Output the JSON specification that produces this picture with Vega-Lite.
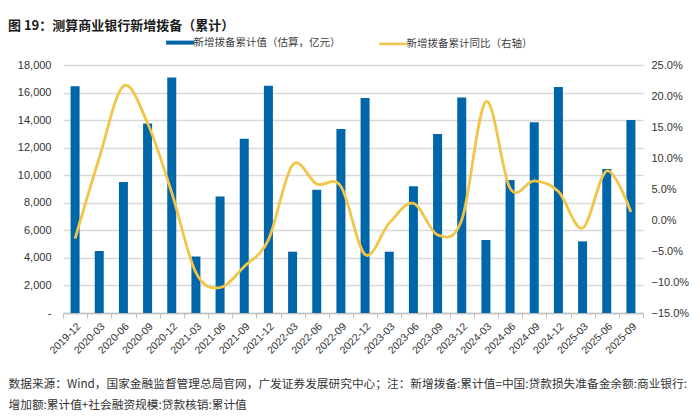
{
  "$schema": "https://vega.github.io/schema/vega-lite/v6.json",
  "width": 580,
  "height": 248,
  "autosize": {"type": "none"},
  "padding": {"left": 63, "top": 65, "right": 57, "bottom": 107},
  "background": "white",
  "title": {
    "text": "图 19：测算商业银行新增拨备（累计）",
    "anchor": "start",
    "frame": "group",
    "dx": -55,
    "font": "Noto Sans CJK SC",
    "fontSize": 13,
    "fontWeight": "bold",
    "color": "#1a1a1a"
  },
  "config": {
    "view": {"stroke": null},
    "axis": {"labelFont": "Liberation Sans", "labelColor": "#333333", "titleFont": "Noto Sans CJK SC"},
    "legend": {"labelFont": "Noto Sans CJK SC"}
  },
  "data": {
    "values": [
      {"period": "2019-12", "provision": 16450, "yoy": -3.0},
      {"period": "2020-03", "provision": 4500, "yoy": 10.0},
      {"period": "2020-06", "provision": 9500, "yoy": 21.6},
      {"period": "2020-09", "provision": 13750, "yoy": 15.6},
      {"period": "2020-12", "provision": 17100, "yoy": 4.4},
      {"period": "2021-03", "provision": 4100, "yoy": -8.5},
      {"period": "2021-06", "provision": 8450, "yoy": -10.9},
      {"period": "2021-09", "provision": 12650, "yoy": -7.5},
      {"period": "2021-12", "provision": 16500, "yoy": -3.2},
      {"period": "2022-03", "provision": 4450, "yoy": 8.9},
      {"period": "2022-06", "provision": 8950, "yoy": 5.8},
      {"period": "2022-09", "provision": 13350, "yoy": 5.4},
      {"period": "2022-12", "provision": 15600, "yoy": -5.6},
      {"period": "2023-03", "provision": 4450, "yoy": -0.5},
      {"period": "2023-06", "provision": 9200, "yoy": 2.7},
      {"period": "2023-09", "provision": 13000, "yoy": -2.4},
      {"period": "2023-12", "provision": 15650, "yoy": 0.0},
      {"period": "2024-03", "provision": 5300, "yoy": 19.1},
      {"period": "2024-06", "provision": 9650, "yoy": 5.1},
      {"period": "2024-09", "provision": 13850, "yoy": 6.3},
      {"period": "2024-12", "provision": 16400, "yoy": 4.6},
      {"period": "2025-03", "provision": 5200, "yoy": -1.3},
      {"period": "2025-06", "provision": 10450, "yoy": 7.9},
      {"period": "2025-09", "provision": 14000, "yoy": 1.3}
    ]
  },
  "layer": [
    {
      "mark": {"type": "bar", "size": 9},
      "encoding": {
        "x": {
          "field": "period",
          "type": "ordinal",
          "sort": null,
          "scale": {"paddingInner": 0, "paddingOuter": 0},
          "axis": {
            "title": null,
            "labelAngle": -45,
            "labelFontSize": 10.5,
            "tickBand": "extent",
            "tickSize": 5,
            "tickColor": "#bfbfbf",
            "domainColor": "#bfbfbf",
            "domainWidth": 1.5,
            "labelPadding": 3
          }
        },
        "y": {
          "field": "provision",
          "type": "quantitative",
          "scale": {"domain": [0, 18000], "nice": false},
          "axis": {
            "title": null,
            "values": [0, 2000, 4000, 6000, 8000, 10000, 12000, 14000, 16000, 18000],
            "labelExpr": "datum.value === 0 ? '-' : format(datum.value, ',')",
            "labelFontSize": 11,
            "labelPadding": 12,
            "domain": false,
            "ticks": false,
            "grid": true,
            "gridColor": "#d9d9d9",
            "gridWidth": 1.5
          }
        },
        "color": {
          "datum": "新增拨备累计值（估算，亿元）",
          "scale": {
            "domain": ["新增拨备累计值（估算，亿元）", "新增拨备累计同比（右轴）"],
            "range": ["#0066aa", "#f0c548"]
          },
          "legend": {
            "title": null,
            "orient": "none",
            "direction": "horizontal",
            "legendX": 112,
            "legendY": -28,
            "symbolType": "stroke",
            "symbolSize": 800,
            "labelFontSize": 10.5,
            "labelColor": "#404040",
            "labelOffset": 8,
            "columnPadding": 33,
            "encode": {
              "symbols": {
                "update": {
                  "stroke": {"signal": "datum.value === '新增拨备累计值（估算，亿元）' ? '#0066aa' : '#f0c548'"},
                  "strokeWidth": {"signal": "datum.value === '新增拨备累计值（估算，亿元）' ? 4 : 2.5"},
                  "fill": {"value": "transparent"}
                }
              }
            }
          }
        }
      }
    },
    {
      "mark": {"type": "line", "interpolate": "cardinal", "strokeWidth": 2.8},
      "encoding": {
        "x": {
          "field": "period",
          "type": "ordinal",
          "sort": null,
          "axis": null
        },
        "y": {
          "field": "yoy",
          "type": "quantitative",
          "scale": {"domain": [-15, 25], "nice": false},
          "axis": {
            "orient": "right",
            "title": null,
            "values": [-15, -10, -5, 0, 5, 10, 15, 20, 25],
            "labelExpr": "format(datum.value, '.1f') + '%'",
            "labelFontSize": 11,
            "labelPadding": 8,
            "domain": false,
            "ticks": false,
            "grid": false
          }
        },
        "color": {"datum": "新增拨备累计同比（右轴）"}
      }
    },
    {
      "mark": {"type": "bar", "opacity": 0, "size": 1},
      "encoding": {
        "x": {
          "field": "period",
          "type": "ordinal",
          "sort": null,
          "axis": {
            "orient": "bottom",
            "offset": 60,
            "labels": false,
            "ticks": false,
            "domain": false,
            "title": ["数据来源：Wind，国家金融监督管理总局官网，广发证券发展研究中心；注：新增拨备:累计值=中国:贷款损失准备金余额:商业银行:", "增加额:累计值+社会融资规模:贷款核销:累计值"],
            "titleX": -55,
            "titleY": 5,
            "titleAlign": "left",
            "titleAnchor": null,
            "titleBaseline": "top",
            "titleLineHeight": 21,
            "titleFontSize": 11.7,
            "titleFontWeight": "normal",
            "titleColor": "#333333"
          }
        },
        "y": {"field": "provision", "type": "quantitative", "axis": null}
      }
    }
  ],
  "resolve": {
    "scale": {"y": "independent"},
    "axis": {"x": "independent", "y": "independent"}
  }
}
